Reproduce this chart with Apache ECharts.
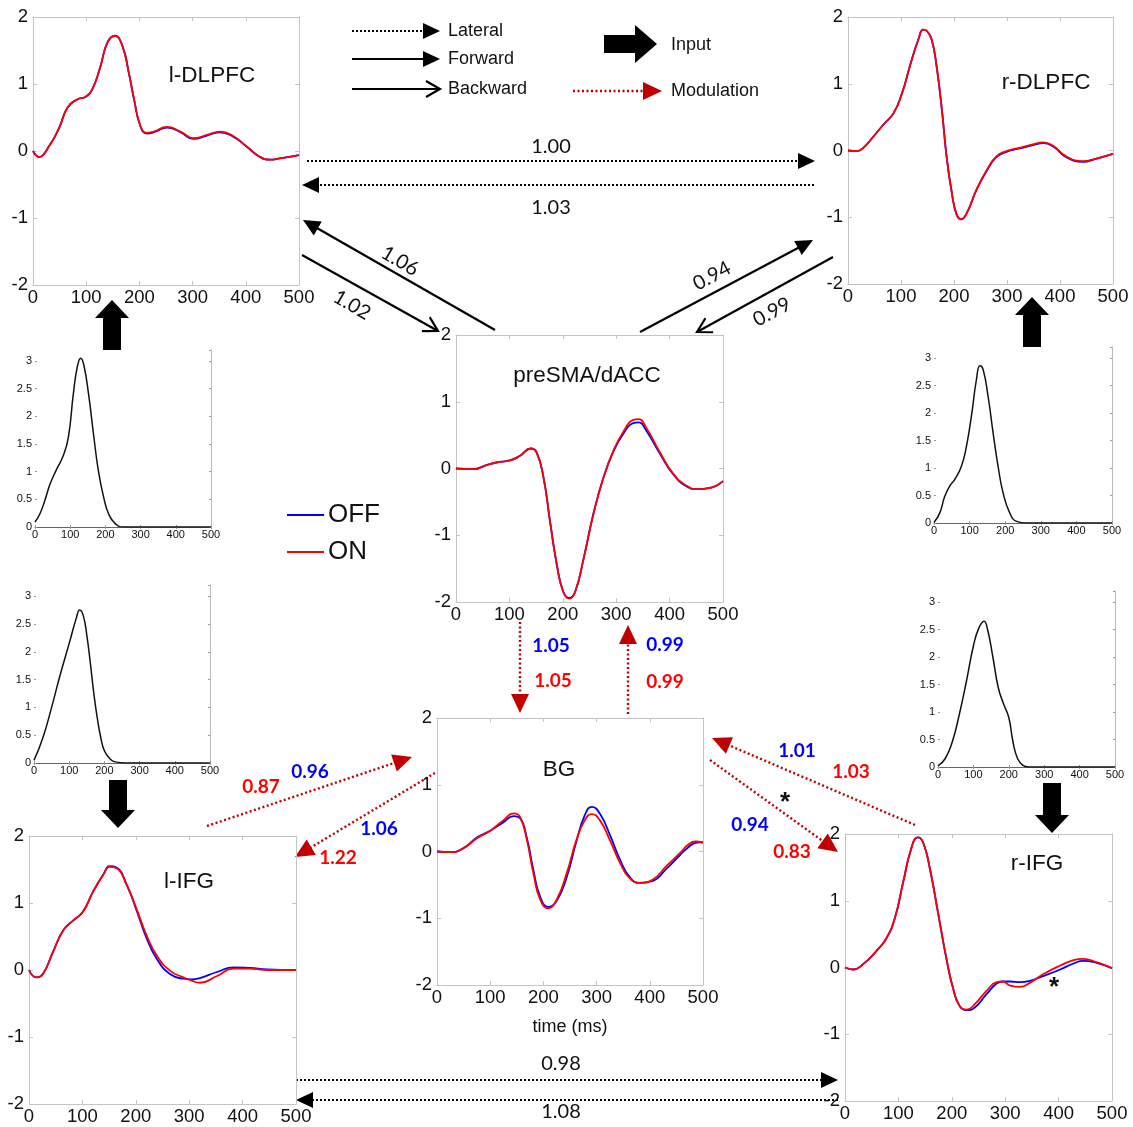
<!DOCTYPE html>
<html><head><meta charset="utf-8">
<script src="https://cdn.jsdelivr.net/npm/echarts@6/dist/echarts.min.js"></script>
<style>html,body{margin:0;padding:0;background:#fff}#c{width:1133px;height:1127px}</style>
</head><body><div id="c"></div>
<script>
// ---------------- DATA ----------------
const xTicks = [0,100,200,300,400,500];
const yTicksMain = [-2,-1,0,1,2];
const yTicksInput = [0,0.5,1,1.5,2,2.5,3];

const lDLPFC_t = [0,12,20,30,40,50,65,83,99,112,127,140,154,168,180,190,202,214,227,252,277,302,327,352,377,401,426,445,464,500];
const lDLPFC_on = [0,-0.09,-0.05,0.07,0.2,0.36,0.65,0.77,0.81,0.93,1.27,1.62,1.72,1.57,1.17,0.77,0.37,0.27,0.29,0.36,0.29,0.19,0.24,0.29,0.22,0.07,-0.085,-0.13,-0.11,-0.06];
const lDLPFC_off = [0,-0.09,-0.05,0.07,0.2,0.36,0.65,0.77,0.81,0.93,1.27,1.62,1.72,1.57,1.17,0.77,0.37,0.26,0.28,0.35,0.28,0.18,0.23,0.28,0.21,0.07,-0.085,-0.13,-0.11,-0.06];

const rDLPFC_t = [0,17,29,48,67,86,102,117,133,142,149,158,167,177,186,196,205,214,224,243,262,280,299,324,349,368,387,412,443,469,500];
const rDLPFC_on = [0,-0.01,0.04,0.21,0.39,0.56,0.86,1.27,1.67,1.81,1.79,1.66,1.27,0.62,-0.09,-0.64,-0.96,-1.03,-0.94,-0.58,-0.29,-0.09,-0.01,0.04,0.09,0.12,0.07,-0.09,-0.16,-0.12,-0.05];
const rDLPFC_off = [0,-0.01,0.04,0.21,0.39,0.56,0.86,1.27,1.67,1.81,1.79,1.66,1.27,0.62,-0.09,-0.64,-0.96,-1.03,-0.94,-0.58,-0.3,-0.1,-0.02,0.03,0.08,0.11,0.06,-0.1,-0.17,-0.12,-0.05];

const preSMA_t = [0,32,57,76,101,120,140,151,164,176,189,201,212,223,239,257,276,295,314,332,342,357,382,407,432,451,476,500];
const preSMA_on = [0,-0.01,0.05,0.09,0.12,0.19,0.3,0.24,-0.14,-0.79,-1.45,-1.85,-1.95,-1.85,-1.35,-0.69,-0.14,0.27,0.56,0.73,0.74,0.6,0.24,-0.08,-0.26,-0.31,-0.29,-0.19];
const preSMA_off = [0,-0.01,0.05,0.09,0.12,0.19,0.3,0.24,-0.14,-0.79,-1.45,-1.85,-1.94,-1.85,-1.35,-0.69,-0.14,0.26,0.53,0.68,0.69,0.56,0.22,-0.09,-0.27,-0.31,-0.29,-0.19];

const BG_t = [0,25,50,75,100,125,144,156,169,181,194,209,225,244,262,278,291,306,325,344,362,381,406,431,456,472,486,500];
const BG_on = [0,-0.01,0.05,0.2,0.31,0.47,0.57,0.52,0.17,-0.32,-0.72,-0.85,-0.72,-0.32,0.17,0.47,0.56,0.47,0.17,-0.17,-0.4,-0.47,-0.42,-0.22,-0.03,0.1,0.15,0.13];
const BG_off = [0,-0.01,0.05,0.21,0.31,0.44,0.53,0.5,0.2,-0.27,-0.68,-0.83,-0.74,-0.38,0.15,0.55,0.67,0.57,0.25,-0.12,-0.38,-0.47,-0.44,-0.26,-0.06,0.06,0.13,0.14];

const lIFG_t = [0,14,26,45,64,83,101,120,139,151,164,183,201,220,239,264,289,305,320,352,383,414,446,500];
const lIFG_on = [0,-0.11,-0.06,0.27,0.59,0.74,0.87,1.17,1.42,1.54,1.52,1.27,0.92,0.52,0.22,-0.01,-0.11,-0.16,-0.19,-0.09,0.02,0.02,0,0];
const lIFG_off = [0,-0.11,-0.06,0.27,0.59,0.74,0.87,1.17,1.42,1.55,1.53,1.27,0.9,0.48,0.17,-0.06,-0.13,-0.14,-0.12,-0.03,0.04,0.03,0.01,0];

const rIFG_t = [0,15,34,59,77,93,109,124,136,146,159,174,190,203,215,228,243,265,284,296,309,328,346,371,403,428,446,471,500];
const rIFG_on = [0,-0.03,0.05,0.25,0.43,0.73,1.28,1.78,1.95,1.88,1.48,0.83,0.13,-0.33,-0.58,-0.63,-0.55,-0.35,-0.22,-0.21,-0.27,-0.29,-0.23,-0.1,0.03,0.11,0.13,0.08,-0.01];
const rIFG_off = [0,-0.03,0.05,0.25,0.43,0.73,1.28,1.78,1.95,1.88,1.48,0.83,0.13,-0.33,-0.58,-0.64,-0.6,-0.4,-0.24,-0.21,-0.21,-0.22,-0.2,-0.13,-0.03,0.06,0.1,0.07,-0.01];

const inLU_t = [0,14,28,43,62,81,95,109,120,130,139,152,166,180,195,209,228,251,300,400,500];
const inLU_v = [0.09,0.24,0.48,0.78,1.05,1.3,1.63,2.41,2.89,3.05,2.92,2.41,1.69,1.02,0.54,0.24,0.06,0,0,0,0];
const inLL_t = [0,25,50,75,100,120,130,140,150,160,170,180,190,200,215,230,260,300,400,500];
const inLL_v = [0.05,0.45,1.0,1.6,2.15,2.6,2.75,2.65,2.3,1.8,1.25,0.8,0.45,0.22,0.08,0.02,0,0,0,0];
const inRU_t = [0,16,30,44,58,77,91,105,119,129,138,152,166,180,194,213,232,260,300,400,500];
const inRU_v = [0.01,0.18,0.48,0.67,0.79,1.03,1.39,1.94,2.6,2.86,2.79,2.3,1.64,1.03,0.55,0.18,0.03,0,0,0,0];
const inRL_t = [0,20,40,60,80,100,115,130,140,155,170,185,200,212,225,240,255,300,400,500];
const inRL_v = [0.02,0.15,0.45,0.95,1.55,2.2,2.52,2.65,2.5,2.0,1.45,1.15,0.9,0.45,0.15,0.03,0,0,0,0];

const regionNames = ['l-DLPFC','r-DLPFC','preSMA/dACC','BG','l-IFG','r-IFG'];

// ---------------- LAYOUT ----------------
const mainPanels = [
  {name:'l-DLPFC', box:[33,17,266,268], t:lDLPFC_t, on:lDLPFC_on, off:lDLPFC_off, title:[212,76]},
  {name:'r-DLPFC', box:[848,17,265,267], t:rDLPFC_t, on:rDLPFC_on, off:rDLPFC_off, title:[1046,83]},
  {name:'preSMA/dACC', box:[456,335,267,267], t:preSMA_t, on:preSMA_on, off:preSMA_off, title:[587,376]},
  {name:'BG', box:[437,718,266,267], t:BG_t, on:BG_on, off:BG_off, title:[559,770], xname:'time (ms)'},
  {name:'l-IFG', box:[29,836,267,268], t:lIFG_t, on:lIFG_on, off:lIFG_off, title:[189,882]},
  {name:'r-IFG', box:[845,834,267,267], t:rIFG_t, on:rIFG_on, off:rIFG_off, title:[1037,864]}
];
const inputPanels = [
  {box:[35,350,176,177], t:inLU_t, v:inLU_v},
  {box:[34,585,176,178], t:inLL_t, v:inLL_v},
  {box:[934,347,178,176], t:inRU_t, v:inRU_v},
  {box:[938,591,177,176], t:inRL_t, v:inRL_v}
];

const FONT = 'Liberation Sans, Arial, sans-serif';
const NUMFONT = 'Lato, Liberation Sans, sans-serif';
const SMOOTH = 0.5;
const grids=[], xAxes=[], yAxes=[], series=[];
function pts(t,v){ return t.map((x,i)=>[x,v[i]]); }

mainPanels.forEach(p=>{
  const gi = grids.length;
  grids.push({left:p.box[0], top:p.box[1], width:p.box[2], height:p.box[3], containLabel:false});
  const lineC = '#c4c4c4';
  const xb = {gridIndex:gi, type:'value', min:0, max:500, interval:100,
    axisLine:{show:true, onZero:false, lineStyle:{color:lineC, width:1}},
    axisTick:{show:true, inside:true, length:4, lineStyle:{color:lineC}},
    splitLine:{show:false}};
  xAxes.push(Object.assign({}, xb, {position:'bottom',
    axisLabel:{color:'#111', fontSize:18.5, fontFamily:FONT, margin:3},
    name:p.xname||'', nameLocation:'middle', nameGap:33,
    nameTextStyle:{color:'#111', fontSize:18, fontFamily:FONT}}));
  xAxes.push(Object.assign({}, xb, {position:'top', axisLabel:{show:false}}));
  const yb = {gridIndex:gi, type:'value', min:-2, max:2, interval:1,
    axisLine:{show:true, onZero:false, lineStyle:{color:lineC, width:1}},
    axisTick:{show:true, inside:true, length:4, lineStyle:{color:lineC}},
    splitLine:{show:false}};
  yAxes.push(Object.assign({}, yb, {position:'left',
    axisLabel:{color:'#111', fontSize:18.5, fontFamily:FONT, margin:5}}));
  yAxes.push(Object.assign({}, yb, {position:'right', axisLabel:{show:false}}));
  const xi = xAxes.length-2, yi = yAxes.length-2;
  series.push({type:'line', name:'OFF', xAxisIndex:xi, yAxisIndex:yi, data:pts(p.t,p.off),
    smooth:SMOOTH, showSymbol:false, lineStyle:{color:'#0000ff', width:1.8}, itemStyle:{color:'#0000ff'}, silent:true, z:2});
  series.push({type:'line', name:'ON', xAxisIndex:xi, yAxisIndex:yi, data:pts(p.t,p.on),
    smooth:SMOOTH, showSymbol:false, lineStyle:{color:'#ff0000', width:1.8}, itemStyle:{color:'#ff0000'}, silent:true, z:3});
});

inputPanels.forEach(p=>{
  const gi = grids.length;
  grids.push({left:p.box[0], top:p.box[1], width:p.box[2], height:p.box[3], containLabel:false});
  const tk = {show:true, inside:true, length:2, lineStyle:{color:'#999'}};
  xAxes.push({gridIndex:gi, type:'value', min:0, max:500, interval:100, position:'bottom',
    axisLine:{show:true, onZero:false, lineStyle:{color:'#666'}}, axisTick:tk,
    axisLabel:{color:'#111', fontSize:11, fontFamily:FONT, margin:2}, splitLine:{show:false}});
  xAxes.push({gridIndex:gi, type:'value', min:0, max:500, interval:100, position:'top',
    axisLine:{show:false}, axisTick:tk, axisLabel:{show:false}, splitLine:{show:false}});
  yAxes.push({gridIndex:gi, type:'value', min:0, max:3.2, interval:0.5, position:'left',
    axisLine:{show:false}, axisTick:tk,
    axisLabel:{color:'#111', fontSize:11, fontFamily:FONT, margin:3, showMaxLabel:false,
      formatter:v=> (v>3.01?'':String(v))}, splitLine:{show:false}});
  yAxes.push({gridIndex:gi, type:'value', min:0, max:3.2, interval:0.5, position:'right',
    axisLine:{show:true, onZero:false, lineStyle:{color:'#bbb'}}, axisTick:tk, axisLabel:{show:false}, splitLine:{show:false}});
  series.push({type:'line', name:'input', xAxisIndex:xAxes.length-2, yAxisIndex:yAxes.length-2,
    data:pts(p.t,p.v), smooth:SMOOTH, showSymbol:false, lineStyle:{color:'#111', width:1.5}, silent:true});
});

// ---------------- ANNOTATIONS (arrows / text) ----------------
const G = [];
function arrow(x1,y1,x2,y2,o){
  const dx=x2-x1, dy=y2-y1, len=Math.hypot(dx,dy), ux=dx/len, uy=dy/len, nx=-uy, ny=ux;
  const L=o.hl, Wd=o.hw, bx=x2-ux*L, by=y2-uy*L;
  const ex = o.open ? x2-ux*1.5 : bx+ux*1, ey = o.open ? y2-uy*1.5 : by+uy*1;
  G.push({type:'line', silent:true, shape:{x1:x1,y1:y1,x2:ex,y2:ey},
    style:{stroke:o.color, lineWidth:o.lw, lineDash:o.dash||null, lineCap:'butt'}});
  if(o.open){
    G.push({type:'polyline', silent:true, shape:{points:[[bx+nx*Wd,by+ny*Wd],[x2,y2],[bx-nx*Wd,by-ny*Wd]]},
      style:{stroke:o.color, lineWidth:o.lw, fill:null}});
  } else {
    G.push({type:'polygon', silent:true, shape:{points:[[x2,y2],[bx+nx*Wd,by+ny*Wd],[bx-nx*Wd,by-ny*Wd]]},
      style:{fill:o.color}});
  }
}
function block(x1,y1,x2,y2,sw,hw,hl){
  const dx=x2-x1, dy=y2-y1, len=Math.hypot(dx,dy), ux=dx/len, uy=dy/len, nx=-uy, ny=ux;
  const bx=x2-ux*hl, by=y2-uy*hl;
  const P=[[x1+nx*sw/2,y1+ny*sw/2],[bx+nx*sw/2,by+ny*sw/2],[bx+nx*hw/2,by+ny*hw/2],[x2,y2],
           [bx-nx*hw/2,by-ny*hw/2],[bx-nx*sw/2,by-ny*sw/2],[x1-nx*sw/2,y1-ny*sw/2]];
  G.push({type:'polygon', silent:true, shape:{points:P}, style:{fill:'#000'}});
}
function txt(x,y,s,o){
  o=o||{};
  G.push({type:'text', silent:true, x:x, y:y, rotation:(o.rot||0)*Math.PI/180, z:50,
    style:{text:s, fill:o.color||'#111', fontSize:o.size||18, fontFamily:o.font||FONT,
      fontWeight:o.bold?'bold':'normal', align:o.align||'center', verticalAlign:'middle'}});
}
const LAT = {color:'#000', lw:2, dash:[2,2], hl:17, hw:8};
const FWD = {color:'#000', lw:2.2, hl:17, hw:8};
const BWD = {color:'#000', lw:2.2, hl:14, hw:8, open:true};
const MOD = {color:'#c00000', lw:2.4, dash:[2,2.5], hl:19, hw:9};

// top legend
arrow(352,31,440,31,LAT); txt(448,31,'Lateral',{align:'left'});
arrow(352,59,440,59,FWD); txt(448,59,'Forward',{align:'left'});
arrow(352,89,440,89,BWD); txt(448,89,'Backward',{align:'left'});
block(604,44,657,44,18,38,22); txt(671,45,'Input',{align:'left'});
arrow(573,91,662,91,MOD); txt(671,91,'Modulation',{align:'left'});

// panel titles
mainPanels.forEach(p=> txt(p.title[0], p.title[1], p.name, {size:22.5}));

// lateral DLPFC
arrow(307,161,815,161,LAT); txt(551,147,'1.00',{font:NUMFONT,size:20});
arrow(814,185,302,185,LAT); txt(551,208,'1.03',{font:NUMFONT,size:20});
// left fwd/bwd
arrow(495,330,303,220,FWD); txt(400,261,'1.06',{font:NUMFONT,size:20,rot:-30});
arrow(302,255,438,331,BWD); txt(352,305,'1.02',{font:NUMFONT,size:20,rot:-30});
// right fwd/bwd
arrow(640,332,813,240,FWD); txt(712,276,'0.94',{font:NUMFONT,size:20,rot:28});
arrow(833,257,697,332,BWD); txt(772,312,'0.99',{font:NUMFONT,size:20,rot:28});
// modulation preSMA <-> BG
arrow(520,622,520,713,MOD); arrow(628,714,628,625,MOD);
txt(551,646,'1.05',{font:NUMFONT,size:19,bold:true,color:'#0000ff'});
txt(553,681,'1.05',{font:NUMFONT,size:19,bold:true,color:'#ff0000'});
txt(665,645,'0.99',{font:NUMFONT,size:19,bold:true,color:'#0000ff'});
txt(665,682,'0.99',{font:NUMFONT,size:19,bold:true,color:'#ff0000'});
// l-IFG <-> BG
arrow(207,826,412,757,MOD); arrow(435,773,295,857,MOD);
txt(261,787,'0.87',{font:NUMFONT,size:19,bold:true,color:'#ff0000'});
txt(310,772,'0.96',{font:NUMFONT,size:19,bold:true,color:'#0000ff'});
txt(379,829,'1.06',{font:NUMFONT,size:19,bold:true,color:'#0000ff'});
txt(338,858,'1.22',{font:NUMFONT,size:19,bold:true,color:'#ff0000'});
// r-IFG <-> BG
arrow(915,825,712,738,MOD); arrow(710,760,838,852,MOD);
txt(797,751,'1.01',{font:NUMFONT,size:19,bold:true,color:'#0000ff'});
txt(851,772,'1.03',{font:NUMFONT,size:19,bold:true,color:'#ff0000'});
txt(750,825,'0.94',{font:NUMFONT,size:19,bold:true,color:'#0000ff'});
txt(792,852,'0.83',{font:NUMFONT,size:19,bold:true,color:'#ff0000'});
txt(785,803,'*',{size:26,bold:true,color:'#111'});
txt(1054,988,'*',{size:26,bold:true,color:'#111'});
// lateral IFG
arrow(296,1080,838,1080,LAT); txt(561,1064,'0.98',{font:NUMFONT,size:20});
arrow(838,1100,296,1100,LAT); txt(561,1112,'1.08',{font:NUMFONT,size:20});
// input block arrows
block(112,350,112,300,18,34,18);
block(118,780,118,828,18,34,18);
block(1032,347,1032,297,18,34,18);
block(1052,783,1052,833,18,34,18);

const chart = echarts.init(document.getElementById('c'), null, {renderer:'canvas'});
chart.setOption({
  animation:false,
  backgroundColor:'#fff',
  grid:grids, xAxis:xAxes, yAxis:yAxes, series:series,
  legend:{data:['OFF','ON'], orient:'vertical', left:282, top:497, icon:'rect', itemWidth:37, itemHeight:2,
    itemGap:11, selectedMode:false,
    textStyle:{fontSize:26, fontFamily:FONT, color:'#111', padding:[0,0,0,-1]}},
  graphic:G
});
</script></body></html>
